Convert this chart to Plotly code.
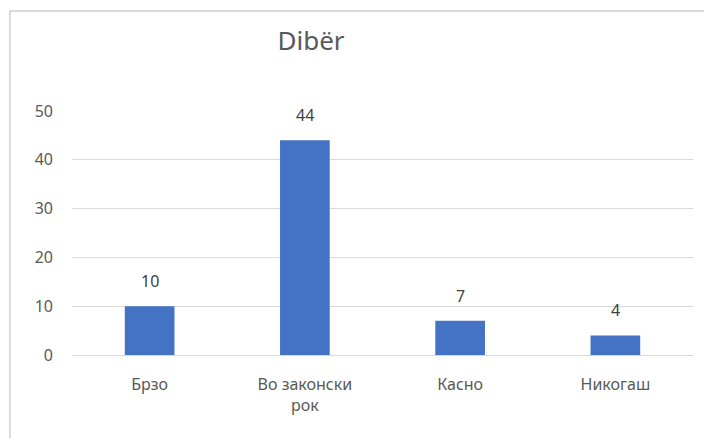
import plotly.graph_objects as go

kategorii = ["Брзо", "Во законски<br>рок", "Касно", "Никогаш"]
vrednosti = [10, 44, 7, 4]
y_tikovi = [0, 10, 20, 30, 40, 50]

SINA = "#4472C4"
TEXT = "#595959"

W, H = 705, 430

fig = go.Figure(go.Bar(
    x=kategorii,
    y=vrednosti,
    marker=dict(color=SINA, line=dict(width=0)),
    hoverinfo="x+y",
))

for k, v in zip(kategorii, vrednosti):
    fig.add_annotation(
        x=k, y=v, text=str(v), showarrow=False,
        yanchor="bottom", yshift=12,
        font=dict(size=16, color="#404040"),
    )

# okvir na grafikonot
fig.add_shape(
    type="rect", xref="paper", yref="paper",
    x0=-0.1, x1=1.05, y0=-0.38, y1=1.41,
    line=dict(color="#d0d0d0", width=1.5), fillcolor="rgba(0,0,0,0)",
    layer="below",
)

fig.update_layout(
    width=W,
    height=H,
    title=dict(text="Dibër", x=(311 - 8) / W, xanchor="center", y=1 - (41 - 8) / H, yanchor="middle",
               font=dict(size=26, color=TEXT)),
    font=dict(family="Noto Sans", size=16, color=TEXT),
    plot_bgcolor="white",
    paper_bgcolor="white",
    bargap=0.68,
    showlegend=False,
    margin=dict(l=64, r=20, t=103, b=83),
    xaxis=dict(showgrid=False, showline=False, ticks="", ticklabelstandoff=18,
               tickfont=dict(size=16, color=TEXT)),
    yaxis=dict(range=[0, 50], tickvals=y_tikovi, showgrid=True, gridcolor="#d9d9d9", gridwidth=1,
               zeroline=True, zerolinecolor="#d9d9d9", zerolinewidth=1, showline=False, ticks="",
               ticklabelstandoff=18, tickfont=dict(size=16, color=TEXT)),
)

fig.write_html("out.html")
